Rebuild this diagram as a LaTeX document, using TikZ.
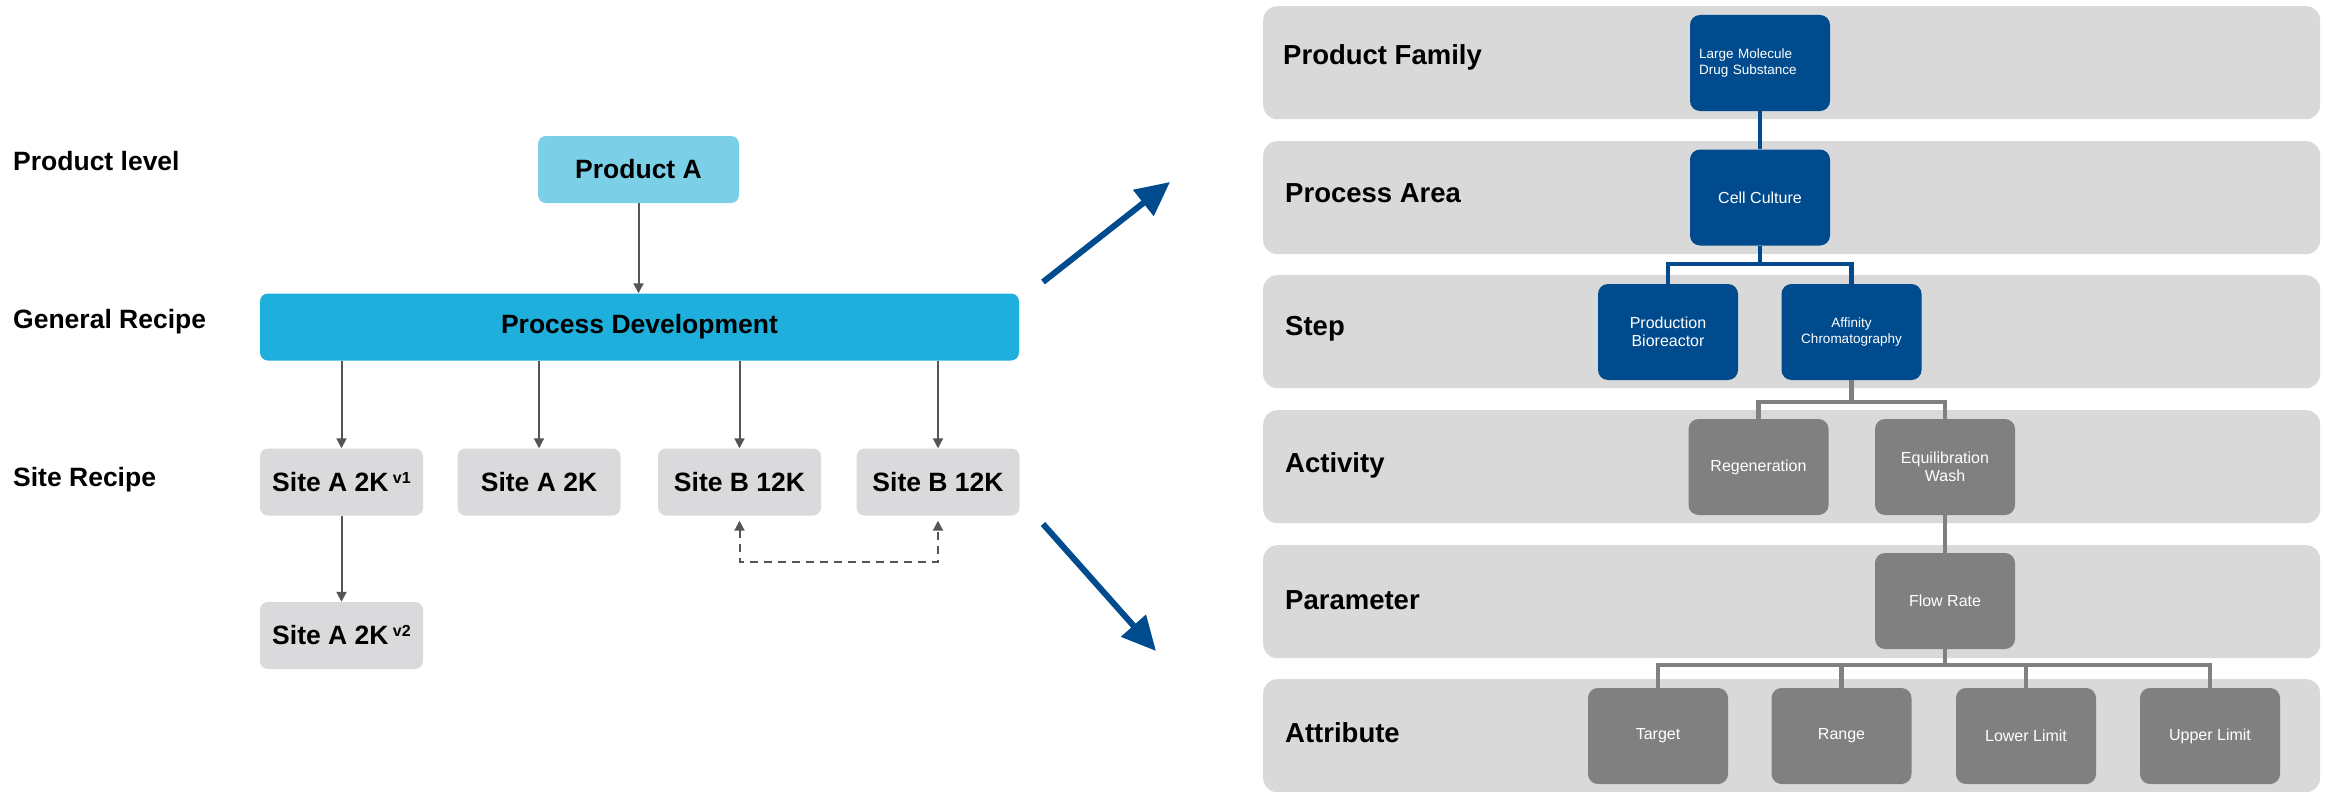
\documentclass[tikz,border=0pt]{standalone}
\usepackage{fontspec}
\setmainfont{Liberation Sans}
\usetikzlibrary{arrows.meta}

\definecolor{navy}{HTML}{004B8D}
\definecolor{boxgray}{HTML}{808080}
\definecolor{bandgray}{HTML}{D9D9D9}
\definecolor{prodblue}{HTML}{7BD0E8}
\definecolor{pdblue}{HTML}{1EAFDC}
\definecolor{sitegray}{HTML}{DADADC}
\definecolor{linegray}{HTML}{555555}

\newcommand{\vsup}[1]{\,\raisebox{8pt}{\fontsize{16}{16}\selectfont #1}}

\begin{document}
\begin{tikzpicture}[x=1pt,y=-1pt,
  levellbl/.style={anchor=base west, inner sep=0pt, font=\fontsize{26.5}{30}\selectfont\bfseries},
  bandlbl/.style={anchor=base west, inner sep=0pt, font=\fontsize{27.5}{30}\selectfont\bfseries},
  leftbox/.style={rounded corners=8pt, inner sep=0pt, minimum height=67pt,
    font=\fontsize{26.5}{30}\selectfont\bfseries},
  sitebox/.style={leftbox, fill=sitegray, minimum width=163pt},
  bandbox/.style={fill=bandgray, rounded corners=14pt, inner sep=0pt,
    minimum width=1057pt, minimum height=113pt, anchor=north west},
  treebox/.style={rounded corners=10pt, minimum width=140pt, minimum height=96pt,
    inner sep=0pt, text=white, align=center, font=\fontsize{16}{18}\selectfont},
  bluebox/.style={treebox, fill=navy},
  graybox/.style={treebox, fill=boxgray},
  bluetree/.style={draw=navy, line width=4.5pt},
  graytree/.style={draw=boxgray, line width=4.5pt},
  flow/.style={draw=linegray, line width=2pt, -{Triangle[length=10pt,width=10pt]}},
  dashflow/.style={draw=linegray, line width=2pt, dash pattern=on 8pt off 6pt,
    {Triangle[length=10pt,width=10pt]}-{Triangle[length=10pt,width=10pt]}},
  bigarrow/.style={draw=navy, line width=6pt, -{Triangle[length=34pt,width=32pt]}}
]
\useasboundingbox (0,0) rectangle (2326,792);

% ---------- left: recipe hierarchy ----------
\node[levellbl] (l1) at (13,170) {Product level};
\node[levellbl] (l2) at (13,328) {General Recipe};
\node[levellbl] (l3) at (13,486) {Site Recipe};

\node[leftbox, fill=prodblue, minimum width=201pt] (pa) at (638.5,169.5) {Product A};
\node[leftbox, fill=pdblue, minimum width=759pt] (pd) at (639.5,327) {Process Development};

\node[sitebox] (s1) at (341.5,482) {Site A 2K\vsup{v1}};
\node[sitebox] (s2) at (539,482) {Site A 2K};
\node[sitebox] (s3) at (739.5,482) {Site B 12K};
\node[sitebox] (s4) at (938,482) {Site B 12K};
\node[sitebox] (s5) at (341.5,635.5) {Site A 2K\vsup{v2}};

\draw[flow] (pa.south) -- (pa.south |- pd.north);
\foreach \s in {s1,s2,s3,s4}
  \draw[flow] (\s.north |- pd.south) -- (\s.north);
\draw[flow] (s1.south) -- (s5.north);
\draw[dashflow, shorten <=5pt, shorten >=5pt] (s3.south) -- ++(0,46) -| (s4.south);

% ---------- arrows between the two views ----------
\coordinate (a1s) at (1043,282);
\coordinate (a1e) at (1170,182);
\coordinate (a2s) at (1043,524);
\coordinate (a2e) at (1156,651);
\draw[bigarrow] (a1s) -- (a1e);
\draw[bigarrow] (a2s) -- (a2e);

% ---------- right: level bands ----------
\node[bandbox] (b1) at (1263,6) {};
\node[bandbox] (b2) at (1263,141) {};
\node[bandbox] (b3) at (1263,275) {};
\node[bandbox] (b4) at (1263,410) {};
\node[bandbox] (b5) at (1263,545) {};
\node[bandbox] (b6) at (1263,679) {};

\node[bandlbl] (t1) at (1283,65) {Product Family};
\node[bandlbl] (t2) at (1285,202) {Process Area};
\node[bandlbl] (t3) at (1285,335) {Step};
\node[bandlbl] (t4) at (1285,472) {Activity};
\node[bandlbl] (t5) at (1285,609) {Parameter};
\node[bandlbl] (t6) at (1285,742) {Attribute};

% ---------- right: object tree ----------
\node[bluebox, text width=122pt, align=left, inner xsep=9pt,
      font=\fontsize{13.5}{16}\selectfont] (lm) at (1760,63) {Large Molecule\\Drug Substance};
\node[bluebox] (cc) at (1760,197.5) {Cell Culture};
\node[bluebox] (pb) at (1668,332) {Production\\Bioreactor};
\node[bluebox, font=\fontsize{13.5}{16}\selectfont] (ac) at (1851.5,332) {Affinity\\Chromatography};
\node[graybox] (rg) at (1758.5,467) {Regeneration};
\node[graybox] (ew) at (1945,467) {Equilibration\\Wash};
\node[graybox] (fr) at (1945,601) {Flow Rate};
\node[graybox] (at1) at (1658,736) {Target};
\node[graybox] (at2) at (1841.5,736) {Range};
\node[graybox] (at3) at (2026,736) {Lower Limit};
\node[graybox] (at4) at (2210,736) {Upper Limit};

\draw[bluetree] (lm.south) -- (cc.north);
\draw[bluetree] (cc.south) -- (cc.south |- 0,264);
\draw[bluetree] (pb.north) |- (ac.north |- 0,264) -- (ac.north);

\draw[graytree] (ac.south) -- (ac.south |- 0,402);
\draw[graytree] (rg.north) |- (ew.north |- 0,402) -- (ew.north);
\draw[graytree] (ew.south) -- (fr.north);

\draw[graytree] (fr.south) -- (fr.south |- 0,665);
\draw[graytree] (at1.north) |- (at4.north |- 0,665) -- (at4.north);
\draw[graytree] (at2.north) -- (at2.north |- 0,665);
\draw[graytree] (at3.north) -- (at3.north |- 0,665);
\end{tikzpicture}
\end{document}
